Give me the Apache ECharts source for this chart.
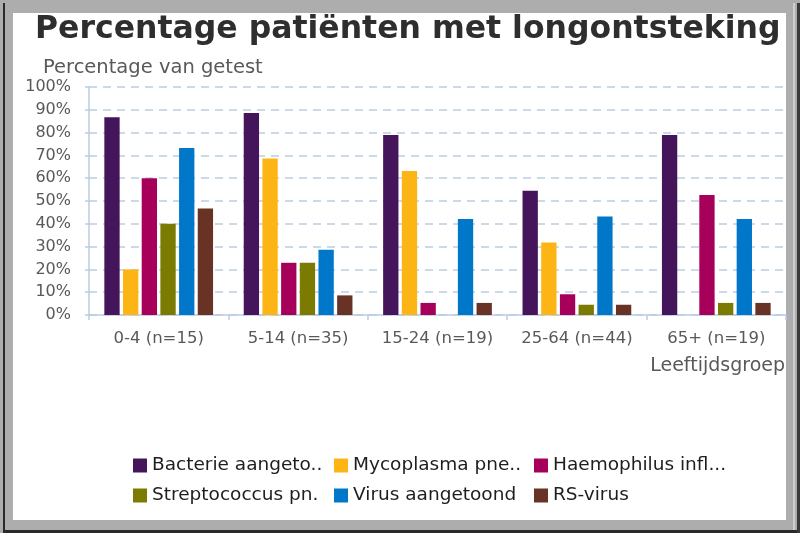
<!DOCTYPE html>
<html>
<head>
<meta charset="utf-8">
<script src="https://cdn.jsdelivr.net/npm/echarts@6/dist/echarts.min.js"></script>
<style>
html,body{margin:0;padding:0;width:800px;height:533px;background:#adadad;overflow:hidden}
#lineL{position:absolute;left:3px;top:3px;width:2px;height:530px;background:#2a2a2a}
#lineB{position:absolute;left:3px;top:530px;width:797px;height:3px;background:#2a2a2a}
#lineR{position:absolute;left:797px;top:3px;width:3px;height:530px;background:#3a3a3a}
#lineR2{position:absolute;left:793px;top:3px;width:2px;height:527px;background:#cfcfcf}
#panel{position:absolute;left:13px;top:13px;width:773px;height:507px;background:#ffffff}
#chart{position:absolute;left:0;top:0;width:800px;height:533px}
</style>
</head>
<body>
<div id="lineL"></div><div id="lineB"></div><div id="lineR2"></div><div id="lineR"></div>
<div id="panel"></div>
<div id="chart"></div>
<script>
// ---- data ----
var categories = ['0-4 (n=15)', '5-14 (n=35)', '15-24 (n=19)', '25-64 (n=44)', '65+ (n=19)'];
var seriesNames = ['Bacterie aangetoond', 'Mycoplasma pneumoniae', 'Haemophilus influenzae', 'Streptococcus pneumoniae', 'Virus aangetoond', 'RS-virus'];
var legendLabels = ['Bacterie aangeto..', 'Mycoplasma pne..', 'Haemophilus infl...', 'Streptococcus pn.', 'Virus aangetoond', 'RS-virus'];
var bacterie     = [86.7, 88.6, 78.9, 54.5, 78.9];
var mycoplasma   = [20.0, 68.6, 63.2, 31.8, 0];
var haemophilus  = [60.0, 22.9, 5.3, 9.1, 52.6];
var streptococcus= [40.0, 22.9, 0, 4.5, 5.3];
var virus        = [73.3, 28.6, 42.1, 43.2, 42.1];
var rsvirus      = [46.7, 8.6, 5.3, 4.5, 5.3];
var yTicks = { min: 0, max: 100, interval: 10 };
var titleText = 'Percentage patiënten met longontsteking';
var yAxisTitle = 'Percentage van getest';
var xAxisTitle = 'Leeftijdsgroep';

// ---- style ----
var colors = ['#44155b', '#fdb515', '#a7005b', '#7a7b00', '#0077c8', '#683224'];
var allValues = [bacterie, mycoplasma, haemophilus, streptococcus, virus, rsvirus];
var axisBlue = '#bccde2';
var font = 'DejaVu Sans';

var series = seriesNames.map(function (n, i) {
  return {
    name: n, type: 'bar', data: allValues[i],
    barGap: '22%', barCategoryGap: '22%',
    itemStyle: { color: colors[i] },
    emphasis: { disabled: true }
  };
});

var legendLeft = [133, 334, 534];
var legendTop = [456, 486];
var legends = seriesNames.map(function (n, i) {
  return {
    data: [n],
    left: legendLeft[i % 3], top: legendTop[Math.floor(i / 3)],
    padding: 0, itemWidth: 14, itemHeight: 14, itemGap: 0,
    icon: 'rect',
    formatter: function () { return legendLabels[i]; },
    textStyle: { fontFamily: font, fontSize: 18.5, color: '#1e1e1e' },
    selectedMode: false
  };
});

var chart = echarts.init(document.getElementById('chart'), null, { renderer: 'canvas' });
chart.setOption({
  backgroundColor: 'transparent',
  animation: false,
  color: colors,
  title: [
    { text: titleText, left: 35, top: 14, padding: 0,
      textStyle: { fontFamily: font, fontSize: 31.5, fontWeight: 'bold', color: '#2e2e2e' } },
    { text: yAxisTitle, left: 43, top: 58, padding: 0,
      textStyle: { fontFamily: font, fontSize: 19.5, fontWeight: 'normal', color: '#595959' } },
    { text: xAxisTitle, right: 15, top: 357, padding: 0,
      textStyle: { fontFamily: font, fontSize: 19, fontWeight: 'normal', color: '#595959' } }
  ],
  legend: legends,
  grid: { left: 89, right: 14, top: 87, bottom: 218, containLabel: false },
  xAxis: {
    type: 'category', data: categories,
    axisLine: { lineStyle: { color: axisBlue, width: 1.5 } },
    axisTick: { show: true, length: 5, alignWithLabel: false, lineStyle: { color: axisBlue, width: 1.5 } },
    axisLabel: { fontFamily: font, fontSize: 16.5, color: '#595959', margin: 15, interval: 0, hideOverlap: false }
  },
  yAxis: {
    type: 'value', min: yTicks.min, max: yTicks.max, interval: yTicks.interval,
    axisLine: { show: true, lineStyle: { color: axisBlue, width: 1.5 } },
    axisTick: { show: true, length: 4, lineStyle: { color: axisBlue, width: 1.5 } },
    axisLabel: { fontFamily: font, fontSize: 16, color: '#595959', margin: 18, formatter: '{value}%' },
    splitLine: { show: true, lineStyle: { color: axisBlue, width: 1.5, type: [8, 6] } }
  },
  series: series
});
</script>
</body>
</html>
